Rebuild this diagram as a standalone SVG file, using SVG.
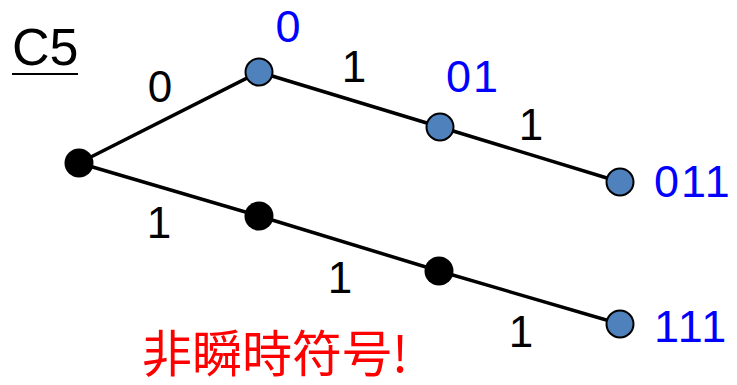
<svg xmlns="http://www.w3.org/2000/svg" width="737" height="385" viewBox="0 0 737 385">
<style>
.edge{stroke:#000;stroke-width:3.5;fill:none}
.blk{fill:#000}
.blu{fill:#4F81BD;stroke:#000;stroke-width:2}
.t{font-family:"Liberation Sans","Noto Sans",sans-serif;font-size:44px;fill:#000;text-anchor:middle}
.code{font-family:"Liberation Sans","Noto Sans",sans-serif;font-size:45px;fill:#0000FF;letter-spacing:2px}
</style>
<rect width="737" height="385" fill="#fff"/>
<g id="title">
<text x="12" y="65" font-family="Liberation Sans,sans-serif" font-size="52" fill="#000">C5</text>
<line x1="12" y1="74" x2="78" y2="74" stroke="#000" stroke-width="2"/>
</g>
<g id="connectors">
<line class="edge" x1="79" y1="163" x2="259" y2="72"/>
<line class="edge" x1="259" y1="72" x2="440" y2="127"/>
<line class="edge" x1="440" y1="127" x2="620" y2="182"/>
<line class="edge" x1="79" y1="163" x2="259" y2="216"/>
<line class="edge" x1="259" y1="216" x2="439" y2="271"/>
<line class="edge" x1="439" y1="271" x2="620" y2="324"/>
<text class="t" x="160" y="102">0</text>
<text class="t" x="354" y="82">1</text>
<text class="t" x="531" y="140">1</text>
<text class="t" x="159" y="238">1</text>
<text class="t" x="340" y="293">1</text>
<text class="t" x="521" y="347">1</text>
</g>
<g id="root"><circle class="blk" cx="79" cy="163" r="14.5"/></g>
<g id="n0"><circle class="blu" cx="259" cy="72" r="13.5"/><text class="code" x="289" y="42" text-anchor="middle" letter-spacing="0">0</text></g>
<g id="n01"><circle class="blu" cx="440" cy="127" r="13.5"/><text class="code" x="446" y="92">01</text></g>
<g id="n011"><circle class="blu" cx="620" cy="182" r="13.5"/><text class="code" x="654" y="197">011</text></g>
<g id="n1"><circle class="blk" cx="259" cy="216" r="14.5"/></g>
<g id="n11"><circle class="blk" cx="439" cy="271" r="14.5"/></g>
<g id="n111"><circle class="blu" cx="620" cy="324" r="13.5"/><text class="code" x="654" y="342">111</text></g>
<g id="note"><text x="142" y="372" font-family="Noto Sans CJK JP,sans-serif" font-size="50" fill="#FF0000">非瞬時符号!</text></g>
</svg>
